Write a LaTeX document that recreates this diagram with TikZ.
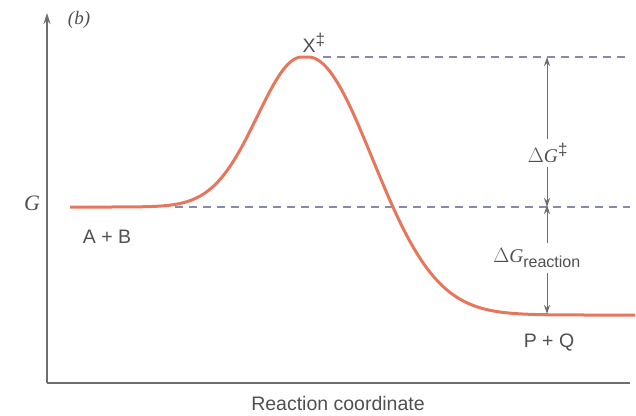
\documentclass[tikz,border=0pt]{standalone}
\usepackage{fontspec}
\setmainfont{Liberation Serif}
\setsansfont{Liberation Sans}
\usetikzlibrary{arrows.meta}

\definecolor{curvecol}{RGB}{232,118,92}
\definecolor{axiscol}{RGB}{110,110,110}
\definecolor{dashcol}{RGB}{135,138,172}
\definecolor{textcol}{RGB}{80,80,80}

\tikzset{
  axis/.style={axiscol, line width=1.2pt},
  curve/.style={curvecol, line width=3pt, line join=round},
  level/.style={dashcol, line width=1.1pt, dash pattern=on 8pt off 6pt},
  gaparrow/.style={axiscol, line width=1pt, -{Stealth[length=9pt,width=6pt]}},
  lbl/.style={text=textcol, font=\sffamily\fontsize{19.5}{22}\selectfont},
  sym/.style={text=textcol, font=\fontsize{19.5}{22}\selectfont}
}

\begin{document}
\begin{tikzpicture}[x=1pt,y=-1pt]
    \useasboundingbox (0,0) rectangle (636,415);

    % Axes
    \coordinate (origin) at (47,383);
    \coordinate (ytop) at (47,13);
    \coordinate (xend) at (630,383);
    \draw[axis, -{Stealth[length=11pt,width=7pt]}] (origin) -- (ytop);
    \draw[axis] (origin) -- (xend);
    \node[sym, font=\itshape\fontsize{19}{22}\selectfont] (panel) at (79,20) {(b)};
    \node[sym, font=\itshape\fontsize{22}{24}\selectfont] (gaxis) at (32,203) {G};
    \node[lbl] (xlabel) at (338,404) {Reaction coordinate};

    % Niveaux
    \coordinate (peak) at (305,57);
    \coordinate (topend) at (630,57);
    \coordinate (reactant) at (175,207);
    \coordinate (midend) at (630,207);
    \draw[level] (peak) ++(18,0) -- (topend);
    \draw[level] (reactant) -- (midend);

    % Courbe d'énergie
    \draw[curve] plot[domain=70:302, samples=90] (\x, {207-150*exp(-((\x-302)/63)^2)})
        -- plot[domain=308:635, samples=110] (\x, {57+258*(1-exp(-((\x-308)/91)^2))});

    % Espèces
    \node[lbl] (ts) at (314,43) {X\textsuperscript{\fontsize{17}{17}\selectfont\ddag}};
    \node[lbl] (ab) at (107,237) {A + B};
    \node[lbl] (pq) at (549,343) {P + Q};

    % Écarts d'énergie
    \coordinate (gtop) at (547,57);
    \coordinate (gmid) at (547,207);
    \coordinate (gbot) at (547,314);
    \node[sym] (dgact) at (548,153) {$\Delta$\textit{G}\textsuperscript{\sffamily\fontsize{17}{17}\selectfont\ddag}};
    \node[sym, inner sep=5pt] (dgreac) at (537,258) {$\Delta$\textit{G}\textsubscript{\sffamily\fontsize{16}{18}\selectfont reaction}};
    \draw[gaparrow] (dgact.north -| gtop) -- (gtop);
    \draw[gaparrow] (dgact.south -| gtop) -- (gmid);
    \draw[gaparrow] (dgreac.north -| gtop) -- ([yshift=2pt]gmid);
    \draw[gaparrow] (dgreac.south -| gtop) -- (gbot);
\end{tikzpicture}
\end{document}
